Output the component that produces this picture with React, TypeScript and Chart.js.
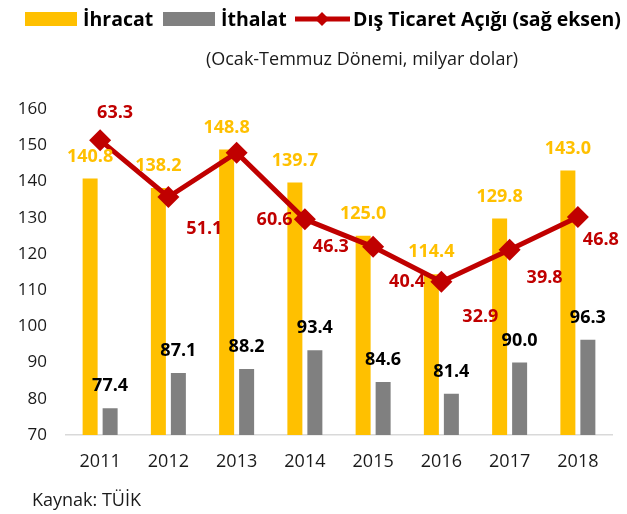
import React, { useEffect, useRef } from "react";
import { Chart, registerables } from "chart.js";

Chart.register(...registerables);

const years = ["2011", "2012", "2013", "2014", "2015", "2016", "2017", "2018"];
const exportsBn = [140.8, 138.2, 148.8, 139.7, 125.0, 114.4, 129.8, 143.0];
const importsBn = [77.4, 87.1, 88.2, 93.4, 84.6, 81.4, 90.0, 96.3];
const deficitBn = [63.3, 51.1, 60.6, 46.3, 40.4, 32.9, 39.8, 46.8];

const leftTicks = [70, 80, 90, 100, 110, 120, 130, 140, 150, 160];

const YELLOW = "#FFC000";
const GRAY = "#808080";
const RED = "#C00000";
const FONT = "'Open Sans', Lato, sans-serif";

// label offsets for the deficit line labels (styling only)
const lineLabelDx = [15, 36, 38, 26, 34, 39, 35, 23];
const lineLabelDy = [-27, 32, 67, 28, 35, 35, 28, 23];

const labelPlugin = {
  id: "valueLabels",
  afterDatasetsDraw(chart: any) {
    const ctx = chart.ctx;
    ctx.save();
    ctx.textAlign = "center";
    ctx.textBaseline = "middle";
    ctx.font = `bold 18px ${FONT}`;
    chart.data.datasets.forEach((ds: any, di: number) => {
      const meta = chart.getDatasetMeta(di);
      meta.data.forEach((el: any, i: number) => {
        const v = ds.data[i] as number;
        const txt = v.toFixed(1);
        if (ds.type === "line") {
          ctx.fillStyle = RED;
          ctx.fillText(txt, el.x + lineLabelDx[i], el.y + lineLabelDy[i]);
        } else {
          ctx.fillStyle = di === 0 ? YELLOW : "#000000";
          ctx.fillText(txt, el.x, el.y - 22);
        }
      });
    });
    ctx.restore();
  },
};

const decorPlugin = {
  id: "decor",
  afterDraw(chart: any) {
    const ctx = chart.ctx;
    ctx.save();
    ctx.textBaseline = "middle";
    ctx.textAlign = "left";
    const ly = 19;
    // legend: exports
    ctx.fillStyle = YELLOW;
    ctx.fillRect(25, ly - 7, 52, 14);
    ctx.fillStyle = "#000";
    ctx.font = `bold 19.5px ${FONT}`;
    ctx.fillText("İhracat", 83, ly + 1);
    // imports
    ctx.fillStyle = GRAY;
    ctx.fillRect(163, ly - 7, 52, 14);
    ctx.fillStyle = "#000";
    ctx.fillText("İthalat", 221, ly + 1);
    // line
    ctx.strokeStyle = RED;
    ctx.lineWidth = 5;
    ctx.beginPath();
    ctx.moveTo(295, ly);
    ctx.lineTo(350, ly);
    ctx.stroke();
    ctx.fillStyle = RED;
    ctx.beginPath();
    ctx.moveTo(322, ly - 7);
    ctx.lineTo(329, ly);
    ctx.lineTo(322, ly + 7);
    ctx.lineTo(315, ly);
    ctx.closePath();
    ctx.fill();
    ctx.fillStyle = "#000";
    ctx.fillText("Dış Ticaret Açığı (sağ eksen)", 353, ly + 1);
    // subtitle
    ctx.font = `18px ${FONT}`;
    ctx.textAlign = "center";
    ctx.fillStyle = "#1a1a1a";
    ctx.fillText("(Ocak-Temmuz Dönemi, milyar dolar)", 362, 60);
    // source
    ctx.textAlign = "left";
    ctx.font = `18px ${FONT}`;
    ctx.fillText("Kaynak: TÜİK", 32, 501);
    ctx.restore();
  },
};

export default function App() {
  const ref = useRef<HTMLCanvasElement>(null);
  useEffect(() => {
    if (!ref.current) return;
    const chart = new Chart(ref.current, {
      type: "bar",
      data: {
        labels: years,
        datasets: [
          {
            type: "bar",
            label: "İhracat",
            data: exportsBn,
            backgroundColor: YELLOW,
            yAxisID: "y",
            order: 2,
            categoryPercentage: 0.586,
            barPercentage: 0.75,
          } as any,
          {
            type: "bar",
            label: "İthalat",
            data: importsBn,
            backgroundColor: GRAY,
            yAxisID: "y",
            order: 2,
            categoryPercentage: 0.586,
            barPercentage: 0.75,
          } as any,
          {
            type: "line",
            label: "Dış Ticaret Açığı (sağ eksen)",
            data: deficitBn,
            borderColor: RED,
            backgroundColor: RED,
            borderWidth: 5,
            pointStyle: "rectRot",
            pointRadius: 11,
            pointBackgroundColor: RED,
            pointBorderColor: RED,
            pointBorderWidth: 0,
            tension: 0,
            yAxisID: "y2",
            order: 0,
          } as any,
        ],
      },
      options: {
        animation: false,
        responsive: false,
        layout: { padding: { top: 109, right: 15, bottom: 40, left: 0 } },
        plugins: {
          legend: { display: false },
          tooltip: { enabled: false },
        },
        scales: {
          x: {
            grid: { display: false, drawTicks: false },
            border: { display: true, color: "#D9D9D9", width: 1.5 },
            ticks: { color: "#1a1a1a", font: { family: FONT, size: 18 }, padding: 16 },
            afterFit(scale: any) {
              scale.height = 39;
            },
          },
          y: {
            min: 70,
            max: 160,
            afterBuildTicks(scale: any) {
              scale.ticks = leftTicks.map((v) => ({ value: v }));
            },
            grid: { display: false, drawTicks: false },
            border: { display: false },
            ticks: { color: "#1a1a1a", font: { family: FONT, size: 17 }, padding: 19 },
            afterFit(scale: any) {
              scale.width = 66;
            },
          },
          y2: {
            min: 0,
            max: 70,
            display: false,
            position: "right",
          },
        },
      } as any,
      plugins: [labelPlugin, decorPlugin],
    });
    return () => chart.destroy();
  }, []);
  return (
    <div style={{ position: "absolute", left: 0, top: 0, width: 627, height: 514, background: "#fff" }}>
      <canvas ref={ref} width={627} height={514} style={{ width: 627, height: 514 }} />
    </div>
  );
}
